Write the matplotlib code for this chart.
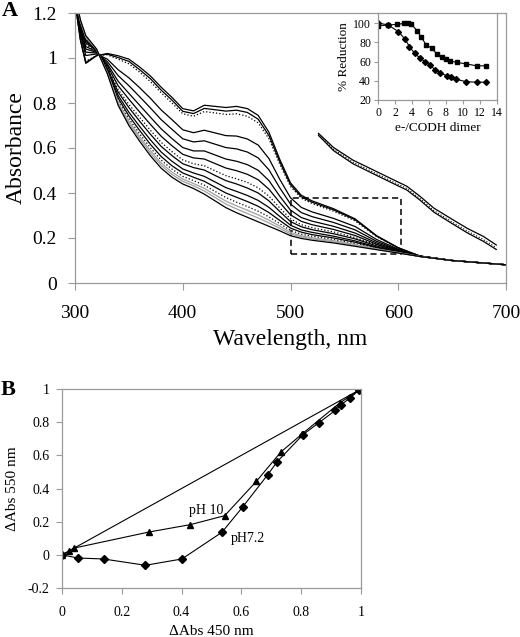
import matplotlib
matplotlib.use("Agg")
import matplotlib.pyplot as plt
from matplotlib.patches import Rectangle

plt.rcParams['font.family'] = ['Liberation Serif', 'DejaVu Serif']

# ---- panel A: redox titration spectra ----
wavelength = [300, 305, 310, 320, 330, 340, 350, 360, 370, 380, 390, 400, 410, 420, 430,
              440, 450, 460, 470, 480, 490, 500, 510, 520, 540, 560, 580, 600, 620, 650, 700]

spec_00 = [1.25, 1.08, 0.976, 1.01, 1.02, 1.01, 0.995, 0.96, 0.92, 0.87, 0.825, 0.775, 0.765, 0.79, 0.785,
           0.78, 0.785, 0.775, 0.745, 0.67, 0.55, 0.445, 0.39, 0.365, 0.33, 0.285, 0.21, 0.157, 0.12, 0.1, 0.081]
spec_01 = [1.25, 1.083, 0.980, 1.011, 1.017, 1.002, 0.985, 0.948, 0.908, 0.857, 0.813, 0.763, 0.753, 0.776, 0.770,
           0.764, 0.768, 0.758, 0.728, 0.655, 0.539, 0.437, 0.383, 0.359, 0.325, 0.281, 0.208, 0.156, 0.120, 0.1, 0.081]
spec_02 = [1.25, 1.086, 0.985, 1.012, 1.014, 0.995, 0.974, 0.937, 0.895, 0.845, 0.800, 0.752, 0.741, 0.762, 0.756,
           0.749, 0.752, 0.741, 0.712, 0.641, 0.528, 0.429, 0.377, 0.353, 0.319, 0.276, 0.206, 0.155, 0.120, 0.1, 0.081]
spec_03 = [1.26, 1.105, 1.011, 1.018, 0.995, 0.948, 0.912, 0.868, 0.821, 0.769, 0.726, 0.681, 0.668, 0.679, 0.667,
           0.655, 0.653, 0.640, 0.613, 0.553, 0.461, 0.379, 0.336, 0.316, 0.287, 0.251, 0.193, 0.150, 0.119, 0.1, 0.081]
spec_04 = [1.26, 1.116, 1.026, 1.022, 0.984, 0.922, 0.877, 0.828, 0.778, 0.726, 0.683, 0.641, 0.627, 0.632, 0.617,
           0.602, 0.596, 0.582, 0.556, 0.503, 0.423, 0.351, 0.313, 0.295, 0.269, 0.236, 0.185, 0.147, 0.119, 0.1, 0.081]
spec_05 = [1.27, 1.126, 1.040, 1.025, 0.974, 0.897, 0.843, 0.790, 0.737, 0.685, 0.642, 0.602, 0.587, 0.587, 0.569,
           0.551, 0.541, 0.526, 0.501, 0.455, 0.386, 0.324, 0.291, 0.275, 0.252, 0.222, 0.178, 0.145, 0.119, 0.1, 0.081]
spec_06 = [1.27, 1.134, 1.051, 1.028, 0.966, 0.877, 0.817, 0.760, 0.705, 0.652, 0.610, 0.572, 0.556, 0.551, 0.531,
           0.511, 0.499, 0.483, 0.459, 0.417, 0.358, 0.303, 0.274, 0.259, 0.238, 0.211, 0.172, 0.142, 0.119, 0.1, 0.081]
spec_07 = [1.27, 1.141, 1.060, 1.030, 0.959, 0.860, 0.794, 0.736, 0.679, 0.625, 0.584, 0.547, 0.530, 0.521, 0.499,
           0.477, 0.463, 0.447, 0.423, 0.386, 0.334, 0.285, 0.259, 0.246, 0.227, 0.202, 0.168, 0.141, 0.119, 0.1, 0.081]
spec_08 = [1.27, 1.146, 1.067, 1.032, 0.954, 0.849, 0.780, 0.719, 0.661, 0.607, 0.566, 0.530, 0.513, 0.502, 0.478,
           0.455, 0.440, 0.422, 0.400, 0.365, 0.318, 0.273, 0.250, 0.237, 0.219, 0.196, 0.165, 0.139, 0.119, 0.1, 0.081]
spec_09 = [1.27, 1.152, 1.075, 1.034, 0.948, 0.834, 0.759, 0.696, 0.636, 0.582, 0.541, 0.507, 0.489, 0.474, 0.449,
           0.424, 0.407, 0.389, 0.367, 0.336, 0.296, 0.257, 0.236, 0.225, 0.208, 0.187, 0.160, 0.138, 0.118, 0.1, 0.081]
spec_10 = [1.28, 1.157, 1.082, 1.036, 0.943, 0.822, 0.743, 0.678, 0.616, 0.562, 0.521, 0.489, 0.470, 0.452, 0.426,
           0.400, 0.381, 0.362, 0.341, 0.313, 0.278, 0.244, 0.226, 0.215, 0.200, 0.181, 0.157, 0.136, 0.118, 0.1, 0.081]
spec_11 = [1.28, 1.161, 1.088, 1.037, 0.939, 0.812, 0.730, 0.663, 0.601, 0.546, 0.506, 0.474, 0.455, 0.435, 0.407,
           0.380, 0.359, 0.340, 0.319, 0.294, 0.264, 0.234, 0.217, 0.208, 0.193, 0.175, 0.154, 0.135, 0.118, 0.1, 0.081]
spec_12 = [1.28, 1.164, 1.092, 1.038, 0.936, 0.804, 0.719, 0.651, 0.588, 0.533, 0.493, 0.462, 0.442, 0.421, 0.392,
           0.364, 0.343, 0.323, 0.303, 0.279, 0.253, 0.225, 0.210, 0.201, 0.188, 0.171, 0.152, 0.135, 0.118, 0.1, 0.081]
spec_13 = [1.28, 1.167, 1.096, 1.039, 0.933, 0.798, 0.710, 0.642, 0.577, 0.523, 0.482, 0.452, 0.432, 0.409, 0.380,
           0.351, 0.329, 0.309, 0.289, 0.267, 0.243, 0.218, 0.205, 0.196, 0.183, 0.167, 0.150, 0.134, 0.118, 0.1, 0.081]
spec_14 = [1.28, 1.17, 1.10, 1.04, 0.93, 0.79, 0.70, 0.63, 0.565, 0.51, 0.47, 0.44, 0.42, 0.395, 0.365,
           0.335, 0.312, 0.292, 0.272, 0.252, 0.232, 0.21, 0.198, 0.19, 0.178, 0.163, 0.148, 0.133, 0.118, 0.1, 0.081]

spectra = [spec_00, spec_01, spec_02, spec_03, spec_04, spec_05, spec_06, spec_07,
           spec_08, spec_09, spec_10, spec_11, spec_12, spec_13, spec_14]
dotted = {2, 7, 11}
grey = {12, 13}

# magnified (offset) spectra drawn in the upper right
mag_wl = [526, 540, 558, 577, 595, 608, 620, 633, 648, 664, 679, 691]
mag_a = [0.665, 0.602, 0.546, 0.502, 0.460, 0.430, 0.386, 0.333, 0.289, 0.243, 0.207, 0.169]
mag_b = [0.660, 0.594, 0.537, 0.492, 0.450, 0.420, 0.376, 0.322, 0.277, 0.231, 0.193, 0.157]
mag_c = [0.656, 0.588, 0.530, 0.485, 0.443, 0.413, 0.369, 0.315, 0.270, 0.223, 0.185, 0.149]

# inset: % reduction vs electrons per dimer
sq_x = [0, 1.2, 2.2, 3.0, 3.5, 3.9, 4.6, 5.1, 5.7, 6.3, 6.9, 7.5, 8.0, 8.5, 9.3, 10.4, 11.6, 12.7]
sq_y = [97, 98, 98.5, 99.5, 100, 99, 92, 85, 77, 74, 68, 64.5, 62.5, 60.5, 59, 57.5, 55.5, 55.5]
dm_x = [0, 1.2, 2.4, 3.2, 3.7, 4.3, 4.9, 5.5, 6.1, 6.7, 7.3, 8.1, 8.6, 9.2, 10.4, 11.6, 12.7]
dm_y = [100, 98, 91, 83, 75.5, 68.5, 64, 60, 56.5, 51.5, 48.5, 45, 43.5, 41.5, 39, 38.5, 38.5]

# ---- panel B ----
ph72_x = [0, 0.052, 0.139, 0.279, 0.401, 0.535, 0.604, 0.688, 0.719, 0.806, 0.858, 0.914, 0.933, 0.964, 0.992, 1.0]
ph72_y = [0, -0.019, -0.025, -0.063, -0.025, 0.136, 0.288, 0.483, 0.56, 0.725, 0.795, 0.871, 0.905, 0.946, 0.992, 1.0]
ph10_x = [0, 0.022, 0.041, 0.292, 0.429, 0.544, 0.65, 0.732, 0.803, 0.929, 1.0]
ph10_y = [0, 0.021, 0.041, 0.138, 0.182, 0.236, 0.443, 0.62, 0.729, 0.916, 1.0]
diag = [0, 1]

GREY = '#9a9a9a'


def frame(ax, sides=('left', 'bottom', 'right', 'top')):
    for s in ('left', 'bottom', 'right', 'top'):
        ax.spines[s].set_visible(s in sides)
        ax.spines[s].set_color(GREY)
        ax.spines[s].set_linewidth(0.9)
    ax.tick_params(color=GREY, direction='out', top=False, right=False)


fig = plt.figure(figsize=(5.2, 6.37), dpi=100)

# panel A
axA = fig.add_axes([75 / 520, 1 - 283 / 637, 431 / 520, 270 / 637])
for i, s in enumerate(spectra):
    axA.plot(wavelength, s, color=('#a0a0a0' if i in grey else 'black'),
             ls=(':' if i in dotted else '-'), lw=0.9)
axA.plot(mag_wl, mag_a, color='black', lw=0.9)
axA.plot(mag_wl, mag_b, color='black', lw=0.8, ls=':')
axA.plot(mag_wl, mag_c, color='black', lw=0.9)
axA.add_patch(Rectangle((500, 0.13), 103, 0.248, fill=False, ec='black', lw=1.1, ls=(0, (4, 2.5))))
axA.set_xlim(300, 700)
axA.set_ylim(0, 1.2)
axA.set_xticks([300, 400, 500, 600, 700])
axA.set_yticks([0, 0.2, 0.4, 0.6, 0.8, 1.0, 1.2])
axA.set_yticklabels(['0', '0.2', '0.4', '0.6', '0.8', '1', '1.2'])
frame(axA)
axA.tick_params(axis='x', labelsize=14, length=5, pad=11)
axA.tick_params(axis='y', labelsize=14, length=5, pad=8)
axA.set_xlabel('Wavelength, nm', fontsize=17, labelpad=5)
axA.set_ylabel('Absorbance', fontsize=17, labelpad=4)

# inset
axI = fig.add_axes([378 / 520, 1 - 100 / 637, 119 / 520, 87 / 637])
axI.set_facecolor('none')
axI.plot(sq_x, sq_y, color='black', lw=0.8, marker='s', ms=3)
axI.plot(dm_x, dm_y, color='black', lw=0.8, marker='D', ms=3)
axI.set_xlim(0, 14)
axI.set_ylim(20, 110.4)
axI.set_xticks(range(0, 15, 2))
axI.set_yticks([20, 40, 60, 80, 100])
frame(axI, sides=('left', 'bottom', 'right'))
axI.tick_params(labelsize=8.5, length=3, pad=2)
axI.set_xlabel('e-/CODH dimer', fontsize=9.5, labelpad=2)
axI.set_ylabel('% Reduction', fontsize=9.5, labelpad=2)

# panel B
axB = fig.add_axes([62 / 520, 49 / 637, 299 / 520, 199 / 637])
axB.plot(diag, diag, color='black', lw=0.8)
axB.plot(ph10_x, ph10_y, color='black', lw=0.8, marker='^', ms=5)
axB.plot(ph72_x, ph72_y, color='black', lw=0.8, marker='D', ms=3.8)
axB.text(0.424, 0.266, 'pH 10', fontsize=10, va='center', ha='left')
axB.text(0.563, 0.101, 'pH7.2', fontsize=10, va='center', ha='left')
axB.set_xlim(0, 1)
axB.set_ylim(-0.2, 1)
axB.set_xticks([0, 0.2, 0.4, 0.6, 0.8, 1])
axB.set_xticklabels(['0', '0.2', '0.4', '0.6', '0.8', '1'])
axB.set_yticks([-0.2, 0, 0.2, 0.4, 0.6, 0.8, 1])
axB.set_yticklabels(['-0.2', '0', '0.2', '0.4', '0.6', '0.8', '1'])
frame(axB)
axB.tick_params(labelsize=10, length=4)
axB.tick_params(axis='x', pad=9)
axB.tick_params(axis='y', pad=5)
axB.set_xlabel('\u0394Abs 450 nm', fontsize=11, labelpad=4)
axB.set_ylabel('\u0394Abs 550 nm', fontsize=11, labelpad=6)

fig.text(2 / 520, 1 - 11 / 637, 'A', fontsize=16, fontweight='bold', va='center', ha='left')
fig.text(1 / 520, 1 - 390 / 637, 'B', fontsize=16, fontweight='bold', va='center', ha='left')

fig.savefig('out.png', dpi=100)
